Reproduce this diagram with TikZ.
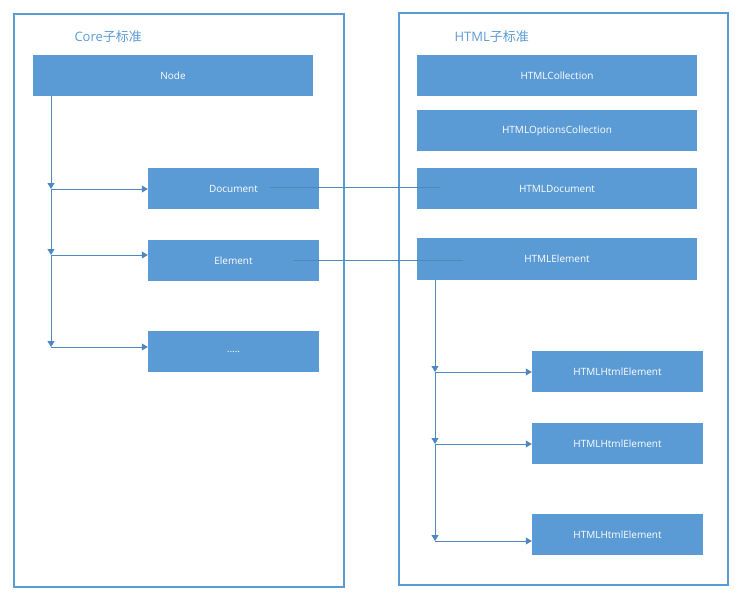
\documentclass[tikz,border=0pt]{standalone}
\usepackage{fontspec}
\setmainfont{Open Sans}
\newfontfamily\cjk{Noto Sans CJK SC}
\usetikzlibrary{arrows.meta}
\definecolor{bx}{HTML}{5B9BD5}
\definecolor{ln}{HTML}{4F87C0}
\begin{document}
\begin{tikzpicture}[x=1pt,y=-1pt,
  box/.style={fill=bx,text=white,font=\fontsize{10}{12}\selectfont,inner sep=0pt},
  frame/.style={draw=bx,line width=2.2pt},
  conn/.style={draw=ln,line width=0.8pt,-{Triangle[width=7pt,length=6pt]}},
  plain/.style={draw=ln,line width=0.8pt},
  ttl/.style={text=bx,font=\fontsize{13}{15}\selectfont,anchor=west}]
\useasboundingbox (0,0) rectangle (744,603);
\draw[frame] (14,14) rectangle (344,587);
\draw[frame] (399,13) rectangle (728,585);
\node[ttl] (t1) at (71,37) {Core\cjk 子标准};
\node[ttl] (t2) at (451,37) {HTML\cjk 子标准};
\newcommand\bx[6]{\node[box,minimum width=#3pt,minimum height=#4pt] (#5) at (#1,#2) {#6};}
\bx{173}{75.5}{280}{41}{node}{Node}
\bx{233.5}{188.5}{171}{41}{doc}{Document}
\bx{233.5}{260.5}{171}{41}{el}{Element}
\bx{233.5}{351.5}{171}{41}{dots}{.....}
\bx{557}{75.5}{280}{41}{hc}{HTMLCollection}
\bx{557}{130.5}{280}{41}{hoc}{HTMLOptionsCollection}
\bx{557}{188.5}{280}{41}{hd}{HTMLDocument}
\bx{557}{259}{280}{42}{he}{HTMLElement}
\bx{617.5}{371.5}{171}{41}{h1}{HTMLHtmlElement}
\bx{617.5}{443.5}{171}{41}{h2}{HTMLHtmlElement}
\bx{617.5}{534.5}{171}{41}{h3}{HTMLHtmlElement}
\coordinate (a0) at (51,96);
\coordinate (a1) at (51,189);
\coordinate (a2) at (51,255);
\coordinate (a3) at (51,347);
\draw[conn] (a0) -- (a1);
\draw[conn] (a1) -- (a2);
\draw[conn] (a2) -- (a3);
\draw[conn] (a1) -- (a1 -| doc.west);
\draw[conn] (a2) -- (a2 -| el.west);
\draw[conn] (a3) -- (a3 -| dots.west);
\coordinate (b0) at (435,280);
\coordinate (b1) at (435,372);
\coordinate (b2) at (435,444);
\coordinate (b3) at (435,541);
\draw[conn] (b0) -- (b1);
\draw[conn] (b1) -- (b2);
\draw[conn] (b2) -- (b3);
\draw[conn] (b1) -- (b1 -| h1.west);
\draw[conn] (b2) -- (b2 -| h2.west);
\draw[conn] (b3) -- (b3 -| h3.west);
\coordinate (d1) at (270,187);
\coordinate (d2) at (440,187);
\coordinate (e1) at (293,260);
\coordinate (e2) at (463,260);
\draw[plain] (d1) -- (d2);
\draw[plain] (e1) -- (e2);
\end{tikzpicture}
\end{document}
